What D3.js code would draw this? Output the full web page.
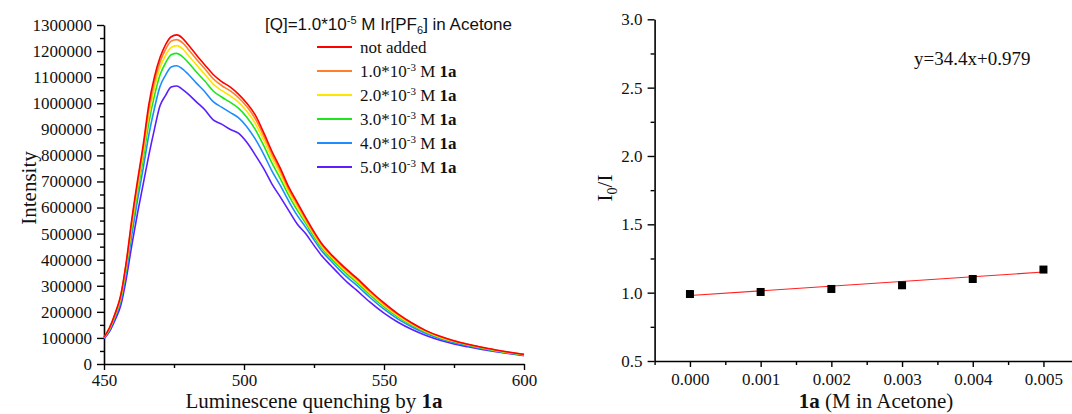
<!DOCTYPE html>
<html>
<head>
<meta charset="utf-8">
<script src="https://cdn.jsdelivr.net/npm/d3@7/dist/d3.min.js"></script>
<style>
  html, body { margin: 0; padding: 0; background: #fff; }
  svg { display: block; }
  .serif { font-family: "Liberation Serif", "Times New Roman", serif; }
  .sans { font-family: "Liberation Sans", Arial, sans-serif; }
</style>
</head>
<body>
<svg id="chart" width="1072" height="414"></svg>
<script>
// ---------------- DATA ----------------
const wavelengths = [450,452,454,456,458,460,462,464,466,468,470,472,474,476,478,480,483,486,489,492,495,498,501,504,507,510,513,516,519,522,525,528,531,534,537,540,545,550,555,560,565,570,575,580,585,590,595,600];

const notAdded = [103000,140000,195000,265000,395000,560000,705000,840000,995000,1100000,1175000,1225000,1255000,1262000,1250000,1225000,1185000,1147000,1110000,1083000,1063000,1035000,1000000,955000,888000,815000,750000,678000,620000,562000,507000,458000,422000,390000,360000,332000,281000,234000,192000,157000,128000,106000,89000,76000,64000,54000,45000,37000];
const conc1 = [102000,139000,193000,261000,389000,551000,694000,827000,977000,1082000,1158000,1207000,1238000,1244000,1232000,1208000,1169000,1132000,1094000,1068000,1048000,1022000,987000,941000,876000,804000,740000,670000,613000,556000,502000,454000,418000,386000,356000,328000,277000,230000,189000,155000,127000,105000,88000,75000,63000,53000,44000,37000];
const conc2 = [102000,137000,190000,257000,381000,539000,679000,809000,954000,1058000,1136000,1184000,1214000,1221000,1209000,1185000,1147000,1111000,1073000,1049000,1029000,1004000,969000,923000,859000,789000,727000,659000,603000,549000,496000,448000,413000,380000,350000,322000,272000,225000,185000,152000,125000,103000,87000,74000,63000,52000,43000,36000];
const conc3 = [101000,135000,186000,251000,372000,524000,660000,786000,925000,1028000,1108000,1155000,1186000,1191000,1179000,1157000,1120000,1085000,1047000,1024000,1004000,981000,946000,900000,838000,770000,710000,646000,590000,540000,488000,441000,406000,373000,343000,315000,265000,219000,180000,148000,122000,101000,85000,72000,61000,51000,42000,35000];
const conc4 = [99000,131000,180000,241000,356000,500000,630000,750000,878000,980000,1064000,1108000,1139000,1144000,1132000,1112000,1077000,1044000,1006000,985000,965000,945000,910000,863000,805000,740000,684000,624000,570000,525000,476000,430000,396000,362000,331000,304000,255000,210000,172000,142000,117000,97000,82000,70000,59000,49000,41000,34000];
const conc5 = [97000,125000,170000,225000,330000,460000,580000,690000,800000,900000,990000,1030000,1062000,1066000,1053000,1036000,1005000,975000,936000,920000,900000,885000,850000,802000,750000,690000,640000,588000,537000,500000,455000,412000,378000,344000,312000,285000,237000,195000,160000,132000,109000,91000,77000,66000,56000,47000,39000,32000];

const seriesNames = ["not added", "1.0*10-3 M 1a", "2.0*10-3 M 1a", "3.0*10-3 M 1a", "4.0*10-3 M 1a", "5.0*10-3 M 1a"];
const seriesMantissa = ["", "1.0", "2.0", "3.0", "4.0", "5.0"];
const seriesColors = ["#ff0000", "#ff7f2a", "#ffe400", "#1ee61e", "#1e8cff", "#5a1eff"];

const xTicksLeft = [450, 500, 550, 600];
const yTicksLeft = [0,100000,200000,300000,400000,500000,600000,700000,800000,900000,1000000,1100000,1200000,1300000];

// Stern-Volmer plot
const svConc = [0.000, 0.001, 0.002, 0.003, 0.004, 0.005];
const svRatio = [0.990, 1.005, 1.027, 1.054, 1.100, 1.169];
const fitX = [0.000, 0.005];
const fitY = [0.979, 1.151];
const fitLabel = "y=34.4x+0.979";
const xTicksRight = [0.000, 0.001, 0.002, 0.003, 0.004, 0.005];
const yTicksRight = [0.5, 1.0, 1.5, 2.0, 2.5, 3.0];

// ---------------- DRAW ----------------
const svg = d3.select("#chart");
const allSeries = [notAdded, conc1, conc2, conc3, conc4, conc5];

// Left chart scales
const xL = d3.scaleLinear().domain([450, 600]).range([104, 524]);
const yL = d3.scaleLinear().domain([0, 1300000]).range([364, 25]);

const gL = svg.append("g");

const xMinorL = d3.range(450, 600.1, 25).filter(v => !xTicksLeft.includes(v));
const yMinorL = d3.range(0, 1300001, 50000).filter(v => v % 100000 !== 0);

function styleAxis(g) {
  g.select(".domain").attr("stroke", "#000").attr("stroke-width", 1.6);
  g.selectAll(".tick line").attr("stroke", "#000").attr("stroke-width", 1.4);
  g.selectAll(".tick text").attr("class", "serif").attr("fill", "#111").style("font-size", "17px");
}
function styleMinor(g) {
  g.select(".domain").remove();
  g.selectAll(".tick line").attr("stroke", "#000").attr("stroke-width", 1.4);
}

gL.append("g").attr("transform", "translate(0,364)")
  .call(d3.axisBottom(xL).tickValues(xMinorL).tickSize(4).tickFormat("").tickSizeOuter(0))
  .call(styleMinor);
gL.append("g").attr("transform", "translate(104,0)")
  .call(d3.axisLeft(yL).tickValues(yMinorL).tickSize(4).tickFormat("").tickSizeOuter(0))
  .call(styleMinor);

gL.append("g").attr("transform", "translate(0,364)")
  .call(d3.axisBottom(xL).tickValues(xTicksLeft).tickSize(6).tickPadding(4).tickSizeOuter(0).tickFormat(d3.format("d")))
  .call(styleAxis);
gL.append("g").attr("transform", "translate(104,0)")
  .call(d3.axisLeft(yL).tickValues(yTicksLeft).tickSize(7).tickPadding(5).tickSizeOuter(0).tickFormat(d3.format("d")))
  .call(styleAxis);

const line = d3.line()
  .x((d, i) => xL(wavelengths[i]))
  .y(d => yL(d))
  .curve(d3.curveMonotoneX);

for (let s = allSeries.length - 1; s >= 0; s--) {
  gL.append("path")
    .datum(allSeries[s])
    .attr("fill", "none")
    .attr("stroke", seriesColors[s])
    .attr("stroke-width", 1.6)
    .attr("stroke-linejoin", "round")
    .attr("d", line);
}

gL.append("text")
  .attr("class", "serif")
  .attr("transform", "translate(36,188) rotate(-90)")
  .attr("text-anchor", "middle")
  .style("font-size", "21px").attr("fill", "#111")
  .text("Intensity");

const xt = gL.append("text")
  .attr("class", "serif")
  .attr("x", 314).attr("y", 408)
  .attr("text-anchor", "middle")
  .style("font-size", "21px").attr("fill", "#111");
xt.append("tspan").text("Luminescene quenching by ");
xt.append("tspan").attr("font-weight", "bold").text("1a");

// legend
const lt = gL.append("text")
  .attr("class", "sans")
  .attr("x", 265).attr("y", 30)
  .style("font-size", "17px").attr("fill", "#111");
lt.append("tspan").text("[Q]=1.0*10");
lt.append("tspan").attr("dy", -6).style("font-size", "11px").text("-5");
lt.append("tspan").attr("dy", 6).text(" M Ir[PF");
lt.append("tspan").attr("dy", 4).style("font-size", "11px").text("6");
lt.append("tspan").attr("dy", -4).text("] in Acetone");

const legendY = d3.scalePoint().domain(d3.range(seriesNames.length)).range([47, 167]);
seriesNames.forEach((name, i) => {
  const yy = legendY(i);
  gL.append("line")
    .attr("x1", 317).attr("x2", 352).attr("y1", yy).attr("y2", yy)
    .attr("stroke", seriesColors[i]).attr("stroke-width", 1.8);
  const t = gL.append("text")
    .attr("class", "serif")
    .attr("x", 360).attr("y", yy + 6)
    .style("font-size", "17px").attr("fill", "#111");
  if (i === 0) {
    t.text(name);
  } else {
    t.append("tspan").text(seriesMantissa[i] + "*10");
    t.append("tspan").attr("dy", -6).style("font-size", "11px").text("-3");
    t.append("tspan").attr("dy", 6).text(" M ");
    t.append("tspan").attr("font-weight", "bold").text("1a");
  }
});

// ---------------- Right chart ----------------
const xR = d3.scaleLinear().domain([-0.0005, 0.0055]).range([654.6, 1078.8]);
const yR = d3.scaleLinear().domain([0.5, 3.0]).range([361, 19.3]);
const gR = svg.append("g");

const xMinorR = d3.range(-0.0005, 0.0056, 0.001).map(v => +v.toFixed(4));
const yMinorR = [0.75, 1.25, 1.75, 2.25, 2.75];

gR.append("g").attr("transform", "translate(0,361)")
  .call(d3.axisBottom(xR).tickValues(xMinorR).tickSize(4).tickFormat("").tickSizeOuter(0))
  .call(styleMinor);
gR.append("g").attr("transform", "translate(654.6,0)")
  .call(d3.axisLeft(yR).tickValues(yMinorR).tickSize(4).tickFormat("").tickSizeOuter(0))
  .call(styleMinor);

gR.append("g").attr("transform", "translate(0,361)")
  .call(d3.axisBottom(xR).tickValues(xTicksRight).tickSize(6).tickPadding(6).tickSizeOuter(0).tickFormat(d3.format(".3f")))
  .call(styleAxis);
gR.append("g").attr("transform", "translate(654.6,0)")
  .call(d3.axisLeft(yR).tickValues(yTicksRight).tickSize(7).tickPadding(5).tickSizeOuter(0).tickFormat(d3.format(".1f")))
  .call(styleAxis);

gR.append("path")
  .datum(fitX.map((x, i) => [x, fitY[i]]))
  .attr("fill", "none").attr("stroke", "#ff2020").attr("stroke-width", 1.1)
  .attr("d", d3.line().x(d => xR(d[0])).y(d => yR(d[1])));

gR.selectAll("rect.pt").data(svConc).enter().append("rect")
  .attr("class", "pt")
  .attr("x", (d) => xR(d) - 4)
  .attr("y", (d, i) => yR(svRatio[i]) - 4)
  .attr("width", 8).attr("height", 8)
  .attr("fill", "#000");

gR.append("text")
  .attr("class", "serif")
  .attr("x", 914).attr("y", 65)
  .style("font-size", "19px").attr("fill", "#111")
  .text(fitLabel);

const yt = gR.append("text")
  .attr("class", "serif")
  .attr("transform", "translate(612,188) rotate(-90)")
  .attr("text-anchor", "middle")
  .style("font-size", "21px").attr("fill", "#111");
yt.append("tspan").text("I");
yt.append("tspan").attr("dy", 5).style("font-size", "14px").text("0");
yt.append("tspan").attr("dy", -5).text("/I");

const xr = gR.append("text")
  .attr("class", "serif")
  .attr("x", 876).attr("y", 408)
  .attr("text-anchor", "middle")
  .style("font-size", "21px").attr("fill", "#111");
xr.append("tspan").attr("font-weight", "bold").text("1a");
xr.append("tspan").text(" (M in Acetone)");
</script>
</body>
</html>
